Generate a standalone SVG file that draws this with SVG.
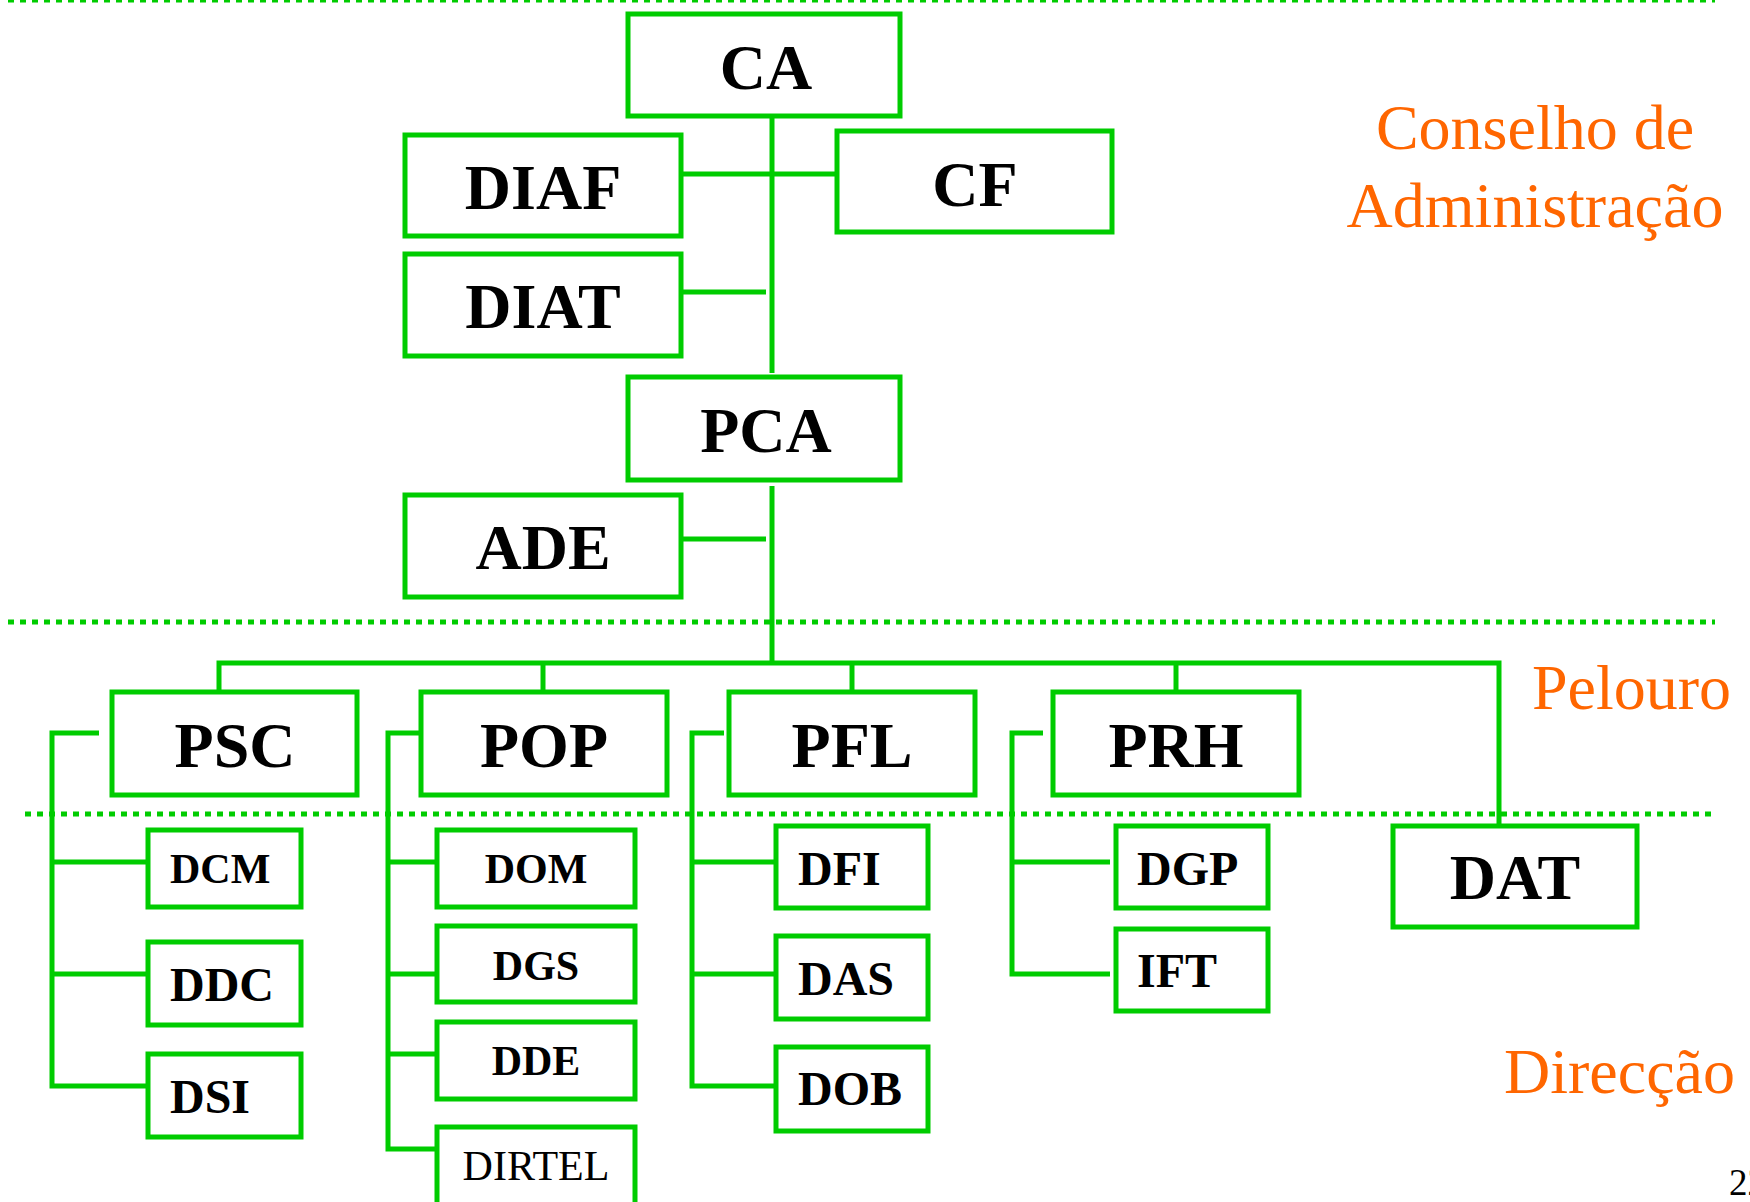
<svg xmlns="http://www.w3.org/2000/svg" width="1750" height="1202" viewBox="0 0 1750 1202">
<style>
.box{fill:none;stroke:#00CC00;stroke-width:5}
.ln{fill:none;stroke:#00CC00;stroke-width:5}
.sep{fill:none;stroke:#00CC00;stroke-width:5;stroke-dasharray:6 6}
.big{font-family:"Liberation Serif","Times New Roman",serif;font-weight:bold;font-size:64px;fill:#000;text-anchor:middle}
.mid{font-family:"Liberation Serif","Times New Roman",serif;font-weight:bold;font-size:48px;fill:#000}
.sm{font-family:"Liberation Serif","Times New Roman",serif;font-weight:bold;font-size:42px;fill:#000}
.reg{font-family:"Liberation Serif","Times New Roman",serif;font-weight:normal;font-size:42px;fill:#000}
.lab{font-family:"Liberation Serif","Times New Roman",serif;font-size:64px;fill:#FF6600}
</style>
<rect width="1750" height="1202" fill="#fff"/>
<g id="separators">
<line x1="8" y1="1" x2="1715" y2="1" stroke="#00CC00" stroke-width="3" stroke-dasharray="6 6"/>
<line class="sep" x1="8" y1="622" x2="1715" y2="622"/>
<line class="sep" x1="25" y1="814" x2="1712" y2="814"/>
</g>
<g id="connectors">
<line class="ln" x1="772" y1="116" x2="772" y2="373"/>
<line class="ln" x1="681" y1="174" x2="837" y2="174"/>
<line class="ln" x1="681" y1="292" x2="766" y2="292"/>
<line class="ln" x1="772" y1="486" x2="772" y2="665"/>
<line class="ln" x1="681" y1="539" x2="766" y2="539"/>
<polyline class="ln" points="219,692 219,663 1499,663 1499,824"/>
<line class="ln" x1="543" y1="663" x2="543" y2="692"/>
<line class="ln" x1="852" y1="663" x2="852" y2="692"/>
<line class="ln" x1="1176" y1="663" x2="1176" y2="692"/>
<polyline class="ln" points="99,733 52,733 52,1086 148,1086"/>
<line class="ln" x1="52" y1="862" x2="148" y2="862"/>
<line class="ln" x1="52" y1="974" x2="148" y2="974"/>
<polyline class="ln" points="421,733 388,733 388,1149 437,1149"/>
<line class="ln" x1="388" y1="862" x2="437" y2="862"/>
<line class="ln" x1="388" y1="974" x2="437" y2="974"/>
<line class="ln" x1="388" y1="1054" x2="437" y2="1054"/>
<polyline class="ln" points="724,733 692,733 692,1086 776,1086"/>
<line class="ln" x1="692" y1="862" x2="776" y2="862"/>
<line class="ln" x1="692" y1="974" x2="776" y2="974"/>
<polyline class="ln" points="1043,733 1012,733 1012,974 1110,974"/>
<line class="ln" x1="1012" y1="862" x2="1110" y2="862"/>
</g>
<g id="CA"><rect class="box" x="628" y="14" width="272" height="102"/><text class="big" x="766" y="89">CA</text></g>
<g id="DIAF"><rect class="box" x="405" y="135" width="276" height="101"/><text class="big" x="543" y="209">DIAF</text></g>
<g id="CF"><rect class="box" x="837" y="131" width="275" height="101"/><text class="big" x="975" y="206">CF</text></g>
<g id="DIAT"><rect class="box" x="405" y="254" width="276" height="102"/><text class="big" x="543" y="328">DIAT</text></g>
<g id="PCA"><rect class="box" x="628" y="377" width="272" height="103"/><text class="big" x="766" y="452">PCA</text></g>
<g id="ADE"><rect class="box" x="405" y="495" width="276" height="102"/><text class="big" x="543" y="569">ADE</text></g>
<g id="PSC"><rect class="box" x="112" y="692" width="245" height="103"/><text class="big" x="235" y="767">PSC</text></g>
<g id="POP"><rect class="box" x="421" y="692" width="246" height="103"/><text class="big" x="544" y="767">POP</text></g>
<g id="PFL"><rect class="box" x="729" y="692" width="246" height="103"/><text class="big" x="852" y="767">PFL</text></g>
<g id="PRH"><rect class="box" x="1053" y="692" width="246" height="103"/><text class="big" x="1176" y="767">PRH</text></g>
<g id="DAT"><rect class="box" x="1393" y="826" width="244" height="101"/><text class="big" x="1515" y="899">DAT</text></g>
<g id="DCM"><rect class="box" x="148" y="830" width="153" height="77"/><text class="sm" x="170" y="883">DCM</text></g>
<g id="DDC"><rect class="box" x="148" y="942" width="153" height="83"/><text class="mid" x="170" y="1001">DDC</text></g>
<g id="DSI"><rect class="box" x="148" y="1054" width="153" height="83"/><text class="mid" x="170" y="1113">DSI</text></g>
<g id="DOM"><rect class="box" x="437" y="830" width="198" height="77"/><text class="sm" x="536" y="883" text-anchor="middle">DOM</text></g>
<g id="DGS"><rect class="box" x="437" y="926" width="198" height="76"/><text class="sm" x="536" y="980" text-anchor="middle">DGS</text></g>
<g id="DDE"><rect class="box" x="437" y="1022" width="198" height="77"/><text class="sm" x="536" y="1075" text-anchor="middle">DDE</text></g>
<g id="DIRTEL"><rect class="box" x="437" y="1127" width="198" height="90"/><text class="reg" x="536" y="1180" text-anchor="middle">DIRTEL</text></g>
<g id="DFI"><rect class="box" x="776" y="826" width="152" height="82"/><text class="mid" x="798" y="885">DFI</text></g>
<g id="DAS"><rect class="box" x="776" y="936" width="152" height="83"/><text class="mid" x="798" y="995">DAS</text></g>
<g id="DOB"><rect class="box" x="776" y="1047" width="152" height="84"/><text class="mid" x="798" y="1105">DOB</text></g>
<g id="DGP"><rect class="box" x="1116" y="826" width="152" height="82"/><text class="mid" x="1137" y="885">DGP</text></g>
<g id="IFT"><rect class="box" x="1116" y="929" width="152" height="82"/><text class="mid" x="1137" y="987">IFT</text></g>
<g id="labels">
<text class="lab" x="1535" y="149" text-anchor="middle">Conselho de</text>
<text class="lab" x="1535" y="227" text-anchor="middle">Administração</text>
<text class="lab" x="1532" y="709">Pelouro</text>
<text class="lab" x="1504" y="1093">Direcção</text>
<text x="1729" y="1195" font-family="Liberation Serif,serif" font-size="37" fill="#000">22</text>
</g>
</svg>
